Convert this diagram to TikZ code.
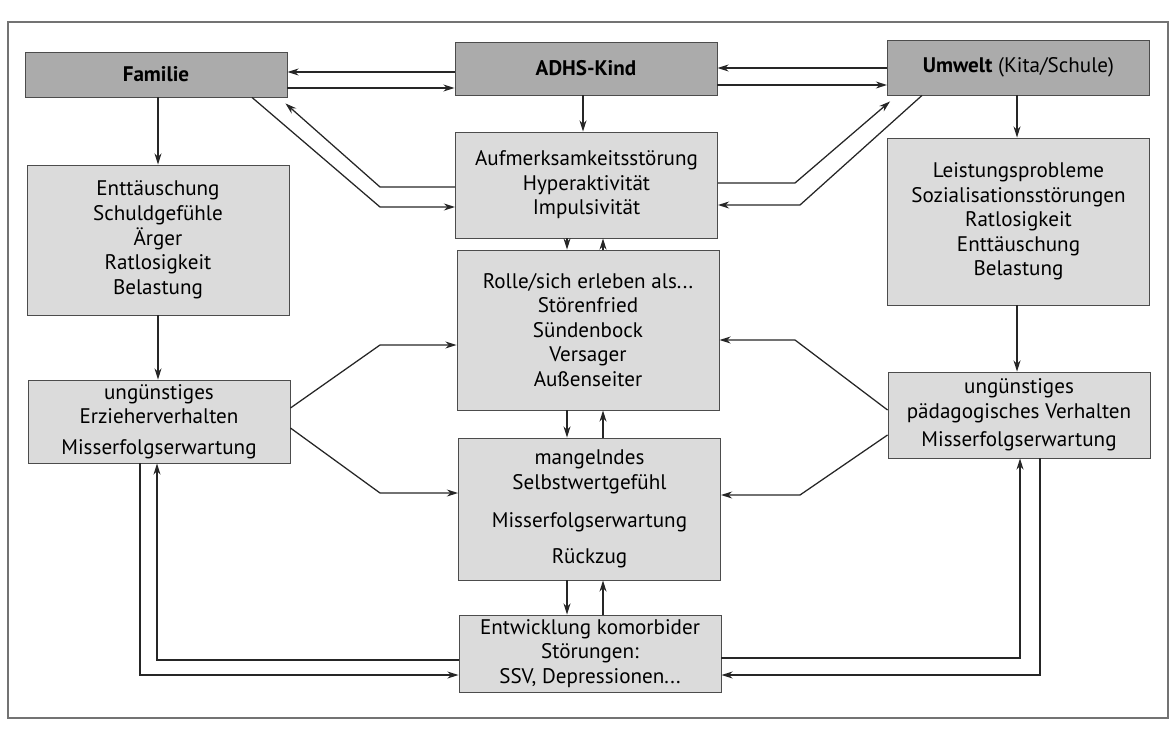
\documentclass[tikz,border=0pt]{standalone}
\usepackage{fontspec}
\setmainfont{PT Sans}
\usetikzlibrary{arrows.meta}

\begin{document}
\begin{tikzpicture}[x=0.025cm, y=-0.025cm,
    box/.style={draw=black!70, line width=0.6pt, fill=black!14, align=center, minimum width=6.55cm, inner sep=2pt, font=\fontsize{15}{17.5}\selectfont},
    head/.style={box, fill=black!33},
    arr/.style={-{Stealth[length=8pt,width=5pt]}, line width=0.9pt, black!85}]
    \useasboundingbox (0,0) rectangle (1175,729);
    \draw[black!55, line width=0.8pt] (8,22) rectangle (1168,718);

    \node[head, minimum height=1.125cm] (fam) at (156,74.5) {\textbf{Familie}};
    \node[head, minimum height=1.325cm] (kind) at (586,68.5) {\textbf{ADHS-Kind}};
    \node[head, minimum height=1.375cm] (umwelt) at (1018.5,67.5) {\textbf{Umwelt} (Kita/Schule)};

    \node[box, minimum height=3.75cm] (famfeel) at (158,240) {Enttäuschung\\Schuldgefühle\\Ärger\\Ratlosigkeit\\Belastung};
    \node[box, minimum height=2.65cm] (symp) at (586.5,185) {Aufmerksamkeitsstörung\\Hyperaktivität\\Impulsivität};
    \node[box, minimum height=4.175cm] (umfeel) at (1018.5,221.5) {Leistungsprobleme\\Sozialisationsstörungen\\Ratlosigkeit\\Enttäuschung\\Belastung};
    \node[box, minimum height=4cm] (rolle) at (588,330) {Rolle/sich erleben als...\\Störenfried\\Sündenbock\\Versager\\Außenseiter};
    \node[box, minimum height=2.075cm] (famerz) at (159,421.5) {ungünstiges\\Erzieherverhalten\\[4pt]Misserfolgserwartung};
    \node[box, minimum height=2.15cm] (umpaed) at (1019,415) {ungünstiges\\pädagogisches Verhalten\\[3pt]Misserfolgserwartung};
    \node[box, minimum height=3.55cm] (selbst) at (589.5,509) {mangelndes\\Selbstwertgefühl\\[10pt]Misserfolgserwartung\\[8pt]Rückzug};
    \node[box, minimum height=1.925cm] (komorb) at (590,653.5) {Entwicklung komorbider\\Störungen:\\SSV, Depressionen...};

    \draw[arr] (kind.west |- 0,72) -- (fam.east |- 0,72);
    \draw[arr] (fam.east |- 0,88) -- (kind.west |- 0,88);
    \draw[arr] (umwelt.west |- 0,68) -- (kind.east |- 0,68);
    \draw[arr] (kind.east |- 0,85) -- (umwelt.west |- 0,85);

    \draw[arr] (kind.south -| 583,0) -- (symp.north -| 583,0);
    \draw[arr] (fam.south -| 158,0) -- (famfeel.north -| 158,0);
    \draw[arr] (umwelt.south -| 1017,0) -- (umfeel.north -| 1017,0);
    \draw[arr] (famfeel.south -| 158,0) -- (famerz.north -| 158,0);
    \draw[arr] (umfeel.south -| 1017,0) -- (umpaed.north -| 1017,0);

    \draw[arr] (symp.south -| 567,0) -- (rolle.north -| 567,0);
    \draw[arr] (rolle.north -| 603,0) -- (symp.south -| 603,0);
    \draw[arr] (rolle.south -| 567,0) -- (selbst.north -| 567,0);
    \draw[arr] (selbst.north -| 603,0) -- (rolle.south -| 603,0);
    \draw[arr] (selbst.south -| 567,0) -- (komorb.north -| 567,0);
    \draw[arr] (komorb.north -| 603,0) -- (selbst.south -| 603,0);

    \draw[arr] (fam.south -| 252,0) -- (380,207) -- (symp.west |- 0,207);
    \draw[arr] (symp.west |- 0,187) -- (380,187) -- ([shift={(-2,6)}]fam.south east);
    \draw[arr] (symp.east |- 0,183) -- (795,183) -- ([shift={(3,6)}]umwelt.south west);
    \draw[arr] (umwelt.south -| 922,0) -- (800,205) -- (symp.east |- 0,205);

    \draw[arr] (famerz.east |- 0,408) -- (380,345) -- (rolle.west |- 0,345);
    \draw[arr] (famerz.east |- 0,428) -- (380,493) -- (selbst.west |- 0,493);
    \draw[arr] (umpaed.west |- 0,410) -- (795,340) -- (rolle.east |- 0,340);
    \draw[arr] (umpaed.west |- 0,435) -- (800,495) -- (selbst.east |- 0,495);

    \draw[arr] (famerz.south -| 140,0) |- (komorb.west |- 0,675);
    \draw[arr] (komorb.west |- 0,660) -| (famerz.south -| 157,0);
    \draw[arr] (komorb.east |- 0,658) -| (umpaed.south -| 1020,0);
    \draw[arr] (umpaed.south -| 1040,0) |- (komorb.east |- 0,675);
\end{tikzpicture}
\end{document}
